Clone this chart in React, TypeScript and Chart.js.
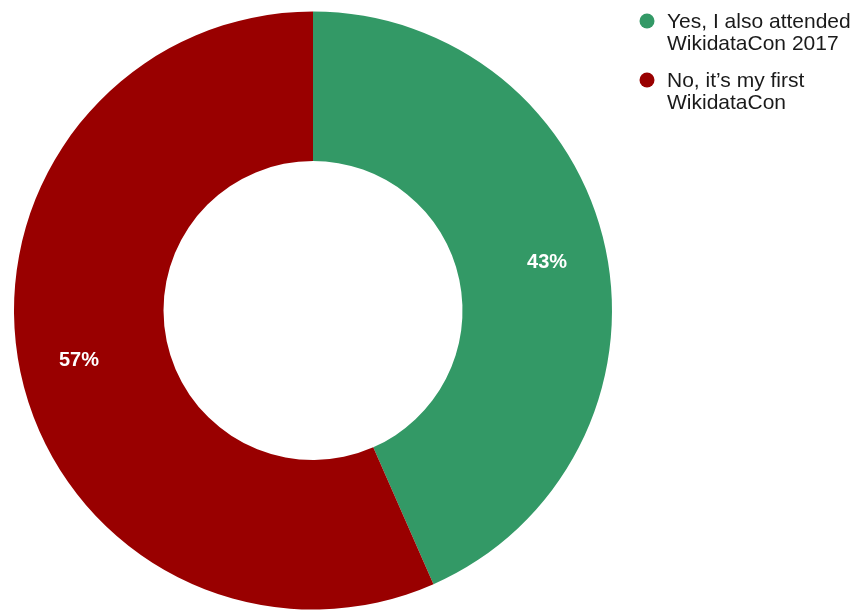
import React, { useEffect, useRef } from "react";
import { Chart, registerables } from "chart.js";

Chart.register(...registerables);

const categories: string[][] = [
  ["Yes, I also attended", "WikidataCon 2017"],
  ["No, it\u2019s my first", "WikidataCon"],
];
const values: number[] = [43.4, 56.6];
const colors: string[] = ["#339966", "#990000"];

const labelPlugin = {
  id: "pctLabels",
  afterDatasetsDraw(chart: any) {
    const ctx = chart.ctx;
    const meta = chart.getDatasetMeta(0);
    const total = values.reduce((a, b) => a + b, 0);
    ctx.save();
    ctx.fillStyle = "#ffffff";
    ctx.font = "bold 20px 'Liberation Sans', Arial, sans-serif";
    ctx.textAlign = "center";
    ctx.textBaseline = "middle";
    meta.data.forEach((arc: any, i: number) => {
      const p = arc.getProps(["x", "y", "startAngle", "endAngle", "innerRadius", "outerRadius"], true);
      const mid = (p.startAngle + p.endAngle) / 2;
      const r = p.innerRadius + (p.outerRadius - p.innerRadius) * 0.6;
      const x = p.x + Math.cos(mid) * r;
      const y = p.y + Math.sin(mid) * r;
      ctx.fillText(Math.round((values[i] / total) * 100) + "%", x, y + 1);
    });
    ctx.restore();

    // legend
    ctx.save();
    ctx.font = "21px 'Liberation Sans', Arial, sans-serif";
    ctx.textAlign = "left";
    ctx.textBaseline = "middle";
    let y = 21;
    categories.forEach((lines, i) => {
      ctx.fillStyle = colors[i];
      ctx.beginPath();
      ctx.arc(647, y, 7.5, 0, Math.PI * 2);
      ctx.fill();
      ctx.fillStyle = "#1a1a1a";
      lines.forEach((t, j) => {
        ctx.fillText(t, 667, y + 1 + j * 22);
      });
      y += 59;
    });
    ctx.restore();
  },
};

export default function App() {
  const ref = useRef<HTMLCanvasElement>(null);
  useEffect(() => {
    document.body.style.margin = "0";
    const chart = new Chart(ref.current!, {
      type: "doughnut",
      data: {
        labels: categories.map((c) => c.join(" ")),
        datasets: [
          {
            data: values,
            backgroundColor: colors,
            borderWidth: 0,
          },
        ],
      },
      options: {
        animation: false,
        responsive: false,
        cutout: "50%",
        layout: { padding: { left: 14, right: 251, top: 11, bottom: 0 } },
        plugins: {
          legend: { display: false },
          tooltip: { enabled: false },
        },
      },
      plugins: [labelPlugin],
    });
    return () => chart.destroy();
  }, []);
  return <canvas ref={ref} width={863} height={610} style={{ display: "block" }} />;
}
